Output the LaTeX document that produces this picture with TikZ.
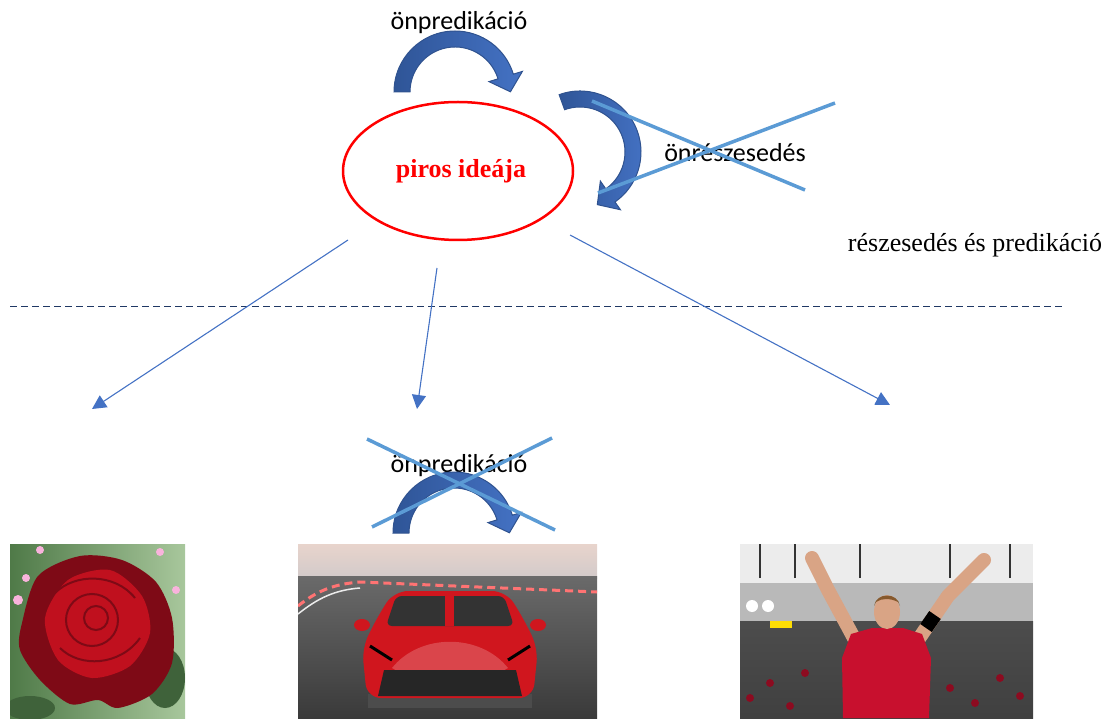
\documentclass[tikz,border=0pt]{standalone}
\usepackage{fontspec}
\setmainfont{Liberation Serif}
\newfontfamily\calibri{Carlito}
\usetikzlibrary{arrows.meta,shapes.geometric}

\definecolor{arrowdark}{HTML}{2F5597}
\definecolor{arrowlight}{HTML}{4472C4}
\definecolor{arrowline}{HTML}{2F528F}
\definecolor{crossblue}{HTML}{5B9BD5}
\definecolor{linkblue}{HTML}{4472C4}
\definecolor{dashnavy}{HTML}{1F3864}
\definecolor{rosedark}{HTML}{7E0A16}
\definecolor{rosered}{HTML}{C0101E}
\definecolor{leafdark}{HTML}{4F7A48}
\definecolor{leaflight}{HTML}{A8C79C}
\definecolor{skytop}{HTML}{E8D4CC}
\definecolor{skybot}{HTML}{D2CACA}
\definecolor{trackgray}{HTML}{6A6A6A}
\definecolor{trackdark}{HTML}{3A3A3A}
\definecolor{carred}{HTML}{D0161E}
\definecolor{shirtred}{HTML}{C8102E}
\definecolor{skin}{HTML}{D9A485}

\tikzset{
  lbl/.style={font=\calibri\fontsize{26}{30}\selectfont,anchor=base},
  serif/.style={font=\fontsize{26}{30}\selectfont,anchor=base},
  idea/.style={ellipse,draw=red,line width=2.5pt,minimum width=230pt,minimum height=138pt,
    inner sep=0pt,text=red,font=\bfseries\fontsize{26}{30}\selectfont},
  link/.style={linkblue,line width=1.1pt,-{Triangle[length=14pt,width=14pt]}},
  crossout/.style={crossblue,line width=3.5pt},
  pics/bendarrow/.style 2 args={code={
    \path[left color=arrowdark,right color=arrowlight,draw=arrowline,line width=1pt]
      (#1:61pt) arc[start angle=#1,end angle=#2,radius=61pt] -- (#2:70.5pt)
      -- ({#2-16.8}:55.4pt) -- (#2:35.5pt) -- (#2:45pt)
      arc[start angle=#2,end angle=#1,radius=45pt] -- cycle;
  }}
}

\begin{document}
\begin{tikzpicture}[x=1pt,y=1pt]
\useasboundingbox (0,0) rectangle (1110,718);

\node[idea] (idea) at (458,547) {\hspace*{6pt}piros ideája};
\node[lbl] (selfpred) at (459,688) {önpredikáció};
\node[lbl] (selfpart) at (735,556) {önrészesedés};
\node[serif] (partpred) at (975,466) {részesedés és predikáció};
\node[lbl] (carpred) at (459,246) {önpredikáció};

\pic at (455,626) {bendarrow={180}{17}};
\pic at (580,566) {bendarrow={110}{-55}};
\pic at (454,185) {bendarrow={180}{17}};

\draw[crossout] (592,617) -- (805,528);
\draw[crossout] (598,525) -- (835,615);
\draw[crossout] (367,279) -- (555,188);
\draw[crossout] (372,191) -- (552,280);

\draw[dashnavy,line width=1pt,dash pattern=on 7pt off 4pt] (10,411) -- (1062,411);

\coordinate (ideaL) at (348,478);
\coordinate (ideaM) at (437,450);
\coordinate (ideaR) at (570,483);
\coordinate (roseTip) at (92,309);
\coordinate (carTip) at (417,309);
\coordinate (manTip) at (890,313);
\draw[link] (ideaL) -- (roseTip);
\draw[link] (ideaM) -- (carTip);
\draw[link] (ideaR) -- (manTip);

% rose
\begin{scope}
\clip (10,0) rectangle (185,174);
\fill[left color=leafdark,right color=leaflight] (10,0) rectangle (185,174);
\fill[leafdark!80!black] (30,10) ellipse[x radius=25,y radius=12] (165,40) ellipse[x radius=20,y radius=30];
\fill[magenta!30] (18,118) circle (5) (26,140) circle (4) (160,166) circle (4) (176,128) circle (4) (40,168) circle (4);
\fill[rosedark] plot[smooth cycle] coordinates {(22,95) (38,142) (80,162) (122,158) (156,136) (172,100)
  (172,55) (152,24) (118,10) (98,18) (70,14) (40,38) (20,68)};
\fill[rosered] plot[smooth cycle] coordinates {(45,100) (68,138) (110,148) (142,122) (150,85)
  (130,52) (92,40) (58,58)};
\draw[rosedark,line width=2pt] (96,100) circle (12) (92,98) circle (26)
  (60,70) .. controls (80,50) and (120,52) .. (140,80) (55,125) .. controls (75,145) and (115,145) .. (135,120);
\end{scope}

% car
\begin{scope}
\clip (298,0) rectangle (597,174);
\fill[top color=skytop,bottom color=skybot] (298,140) rectangle (597,174);
\fill[top color=trackgray,bottom color=trackdark] (298,0) rectangle (597,142);
\draw[red!55,line width=3pt,dash pattern=on 8pt off 5pt] (298,112) .. controls (318,128) and (335,134) .. (360,136) -- (597,126);
\draw[white!85!gray,line width=1.5pt] (298,104) .. controls (318,120) and (335,128) .. (360,130);
\fill[black!70] (368,10) rectangle (532,24);
\fill[carred] (367,20) [rounded corners=14pt] -- (362,70) -- (378,102) -- (394,127) -- (506,127) -- (522,102) -- (538,70) -- (533,20) -- cycle;
\fill[carred!80!white] (392,50) .. controls (420,85) and (480,85) .. (508,50) -- (490,40) -- (410,40) -- cycle;
\fill[black!80] (396,122) [rounded corners=6pt] -- (386,92) -- (514,92) -- (504,122) -- cycle;
\fill[carred] (445,92) rectangle (454,125);
\fill[black!85] (378,22) -- (522,22) -- (516,48) -- (384,48) -- cycle;
\draw[black,line width=3pt] (370,72) -- (392,58) (530,72) -- (508,58);
\fill[carred] (362,93) ellipse[x radius=8,y radius=6] (538,93) ellipse[x radius=8,y radius=6];
\end{scope}

% player
\begin{scope}
\clip (740,0) rectangle (1033,174);
\fill[gray!15] (740,0) rectangle (1033,174);
\fill[gray!55] (740,95) rectangle (1033,135);
\foreach \x in {760,795,860,950,1010}
  \draw[gray!40!black,line width=2pt] (\x,140) -- (\x,174);
\fill[top color=gray!60!black,bottom color=black!75] (740,0) rectangle (1033,97);
\foreach \x/\y in {750/20,770/35,790/12,805/45,950/30,975/15,1000/40,1020/22}
  \fill[shirtred!70!black] (\x,\y) circle (4);
\fill[white] (752,112) circle (6) (768,112) circle (6);
\fill[yellow!80!orange] (770,90) rectangle (792,97);
\draw[skin,line width=14pt,line cap=round] (855,78) -- (828,128) -- (812,160);
\draw[skin,line width=14pt,line cap=round] (918,78) -- (948,122) -- (984,158);
\draw[black,line width=14pt] (926,90) -- (935,103);
\fill[shirtred] (843,0) -- (929,0) -- (931,60) -- (922,84) -- (903,90) -- (872,90) -- (851,84) -- (842,60) -- cycle;
\fill[skin] (887,106) ellipse[x radius=13,y radius=17];
\fill[brown!70!black] (874,112) .. controls (876,126) and (898,126) .. (900,112) -- (898,116) .. controls (890,120) and (882,120) .. (876,116) -- cycle;
\end{scope}
\end{tikzpicture}
\end{document}
